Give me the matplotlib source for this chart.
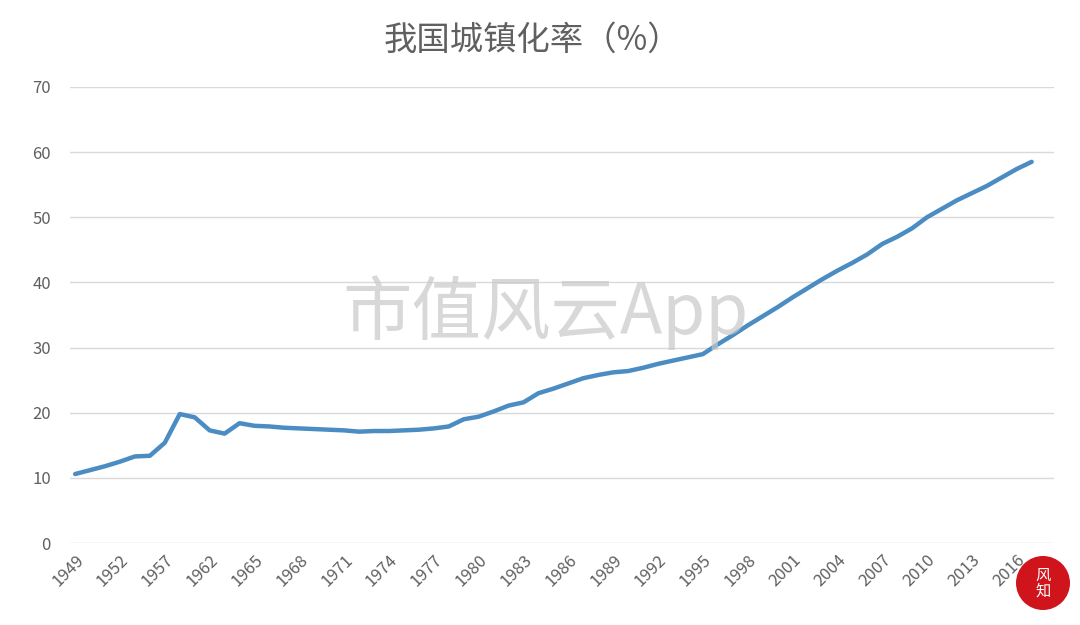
import matplotlib.pyplot as plt
from matplotlib.patches import Circle

plt.rcParams['font.family'] = ['Noto Sans CJK SC', 'DejaVu Sans']

# years shown on the category axis (some early years are missing in the source)
years = [1949, 1950, 1951, 1952, 1953, 1955, 1957, 1960, 1961, 1962, 1963, 1964,
         1965, 1966, 1967, 1968, 1969, 1970, 1971, 1972, 1973, 1974, 1975, 1976,
         1977, 1978, 1979, 1980, 1981, 1982, 1983, 1984, 1985, 1986, 1987, 1988,
         1989, 1990, 1991, 1992, 1993, 1994, 1995, 1996, 1997, 1998, 1999, 2000,
         2001, 2002, 2003, 2004, 2005, 2006, 2007, 2008, 2009, 2010, 2011, 2012,
         2013, 2014, 2015, 2016, 2017]

# urbanization rate (%)
rate = [10.6, 11.2, 11.8, 12.5, 13.3, 13.4, 15.4, 19.8, 19.3, 17.3, 16.8, 18.4,
        18.0, 17.9, 17.7, 17.6, 17.5, 17.4, 17.3, 17.1, 17.2, 17.2, 17.3, 17.4,
        17.6, 17.9, 19.0, 19.4, 20.2, 21.1, 21.6, 23.0, 23.7, 24.5, 25.3, 25.8,
        26.2, 26.4, 26.9, 27.5, 28.0, 28.5, 29.0, 30.5, 31.9, 33.4, 34.8, 36.2,
        37.7, 39.1, 40.5, 41.8, 43.0, 44.3, 45.9, 47.0, 48.3, 50.0, 51.3, 52.6,
        53.7, 54.8, 56.1, 57.4, 58.5]

fig = plt.figure(figsize=(10.8, 6.25), dpi=100)
ax = fig.add_axes([0.065, 0.131, 0.911, 0.730])

x = list(range(len(years)))
ax.plot(x, rate, color='#4b8cc3', linewidth=3.2, solid_capstyle='round',
        solid_joinstyle='round', zorder=3)

ax.set_ylim(0, 70)
ax.set_xlim(-0.33, 65.5)
ax.set_yticks(range(0, 71, 10))
ax.grid(axis='y', color='#d9d9d9', linewidth=1)
ax.set_axisbelow(True)
for s in ax.spines.values():
    s.set_visible(False)

tick_pos = x[::3]
ax.set_xticks(tick_pos)
ax.set_xticklabels([str(years[i]) for i in tick_pos], rotation=45, ha='right',
                   rotation_mode='anchor')
ax.tick_params(axis='both', length=0, colors='#606060', labelsize=12)
ax.tick_params(axis='y', pad=14)
ax.tick_params(axis='x', pad=6)

fig.text(0.493, 0.935, '我国城镇化率（%）', ha='center', va='center',
         fontsize=24, color='#606060', fontweight='light')

# watermark
fig.text(0.505, 0.50, '市值风云App', ha='center', va='center', fontsize=50,
         color='#c8c8c8', alpha=0.7, zorder=5)

# red seal logo (drawn in inches so it stays round)
seal = Circle((10.43, 0.42), 0.27, transform=fig.dpi_scale_trans,
              facecolor='#d0141c', edgecolor='none', zorder=6)
fig.add_artist(seal)
fig.text(10.43 / 10.8, 0.42 / 6.25, '风\n知', ha='center', va='center',
         fontsize=11, color='white', linespacing=0.9, zorder=7)

plt.savefig('out.png', dpi=100)
